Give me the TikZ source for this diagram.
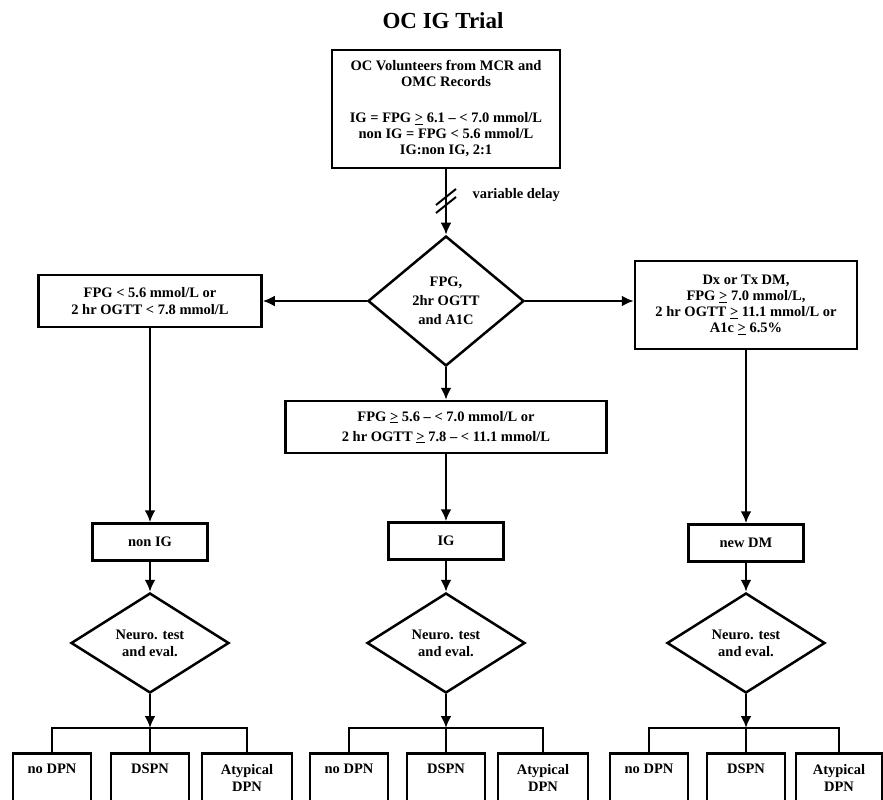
\documentclass[tikz,border=0pt]{standalone}
\usepackage{fontspec}
\setmainfont{Liberation Serif}
\usetikzlibrary{arrows.meta,shapes.geometric}
\newcommand{\geu}{\underline{>}}

\begin{document}
\begin{tikzpicture}[x=1pt,y=-1pt]
\tikzset{every node/.style={font=\bfseries\fontsize{14.5}{17}\selectfont,
		align=center}}
\tikzset{box/.style = {shape=rectangle,draw,line width=2.5pt,inner sep=0pt}}
\tikzset{choice/.style = {shape=diamond,draw,line width=2.5pt,inner sep=0pt}}
\tikzset{outcome/.style = {box,anchor=north,minimum width=78pt,inner ysep=11pt,text depth=60pt}}
\tikzset{edge/.style = {-{Latex[length=12pt,width=11pt]},line width=2.5pt}}
\tikzset{link/.style = {line width=2.5pt,line join=miter}}
\useasboundingbox (0,0) rectangle (883,800);
% title
\node (t) at (443,21) {\fontsize{23}{26}\selectfont OC IG Trial};
% boxes
\node[box,minimum width=228pt,minimum height=118pt,
	font=\bfseries\fontsize{14.5}{16}\selectfont] (v) at (446,109)
	{OC Volunteers from MCR and\\OMC Records\\[20pt]
	 IG = FPG \geu{} 6.1 -- < 7.0 mmol/L\\non IG = FPG < 5.6 mmol/L\\IG:non IG, 2:1};
\coordinate (cut) at (446,202);
\node[anchor=west] (vd) at (469,195) {variable delay};
\node[choice,minimum width=156pt,minimum height=130pt,
	font=\bfseries\fontsize{14.5}{19}\selectfont] (c) at (446,301) {FPG,\\2hr OGTT\\and A1C};
\node[box,minimum width=223pt,minimum height=52pt] (l) at (150,301)
	{FPG < 5.6 mmol/L or\\2 hr OGTT < 7.8 mmol/L};
\node[box,minimum width=222pt,minimum height=88pt,
	font=\bfseries\fontsize{14.5}{16}\selectfont] (r) at (746,305)
	{Dx or Tx DM,\\FPG \geu{} 7.0 mmol/L,\\2 hr OGTT \geu{} 11.1 mmol/L or\\A1c \geu{} 6.5\%};
\node[box,minimum width=321pt,minimum height=52pt,
	font=\bfseries\fontsize{14.5}{20}\selectfont] (m) at (446,427)
	{FPG \geu{} 5.6 -- < 7.0 mmol/L or\\2 hr OGTT \geu{} 7.8 -- < 11.1 mmol/L};
\node[box,minimum width=115pt,minimum height=37pt] (n1) at (150,542) {non IG};
\node[box,minimum width=115pt,minimum height=37pt] (n2) at (446,541) {IG};
\node[box,minimum width=115pt,minimum height=37pt] (n3) at (746,543) {new DM};
\node[choice,minimum width=158pt,minimum height=100pt] (d1) at (150,643) {Neuro. test\\and eval.};
\node[choice,minimum width=158pt,minimum height=100pt] (d2) at (446,643) {Neuro. test\\and eval.};
\node[choice,minimum width=158pt,minimum height=100pt] (d3) at (746,643) {Neuro. test\\and eval.};
\coordinate (j1) at (150,728);
\coordinate (j2) at (446,728);
\coordinate (j3) at (746,728);
\node[outcome] (a1) at (52,752) {no DPN};
\node[outcome] (a2) at (150,752) {DSPN};
\node[outcome,minimum width=90pt] (a3) at (247,752) {Atypical\\DPN};
\node[outcome] (b1) at (349,752) {no DPN};
\node[outcome] (b2) at (446,752) {DSPN};
\node[outcome,minimum width=90pt] (b3) at (543,752) {Atypical\\DPN};
\node[outcome] (e1) at (649,752) {no DPN};
\node[outcome] (e2) at (746,752) {DSPN};
\node[outcome,minimum width=86pt] (e3) at (839,752) {Atypical\\DPN};

%edges
\draw[edge] (v) -- (c);
\draw[line width=2pt] (cut) ++(-10,3) -- ++(20,-16);
\draw[line width=2pt] (cut) ++(-10,11) -- ++(20,-16);
\draw[edge] (c) -- (l);
\draw[edge] (c) -- (c -| r.west);
\draw[edge] (c) -- (m);
\draw[edge] (l) -- (n1);
\draw[edge] (m) -- (n2);
\draw[edge] (r) -- (n3);
\draw[edge] (n1) -- (d1);
\draw[edge] (n2) -- (d2);
\draw[edge] (n3) -- (d3);
\draw[edge] (d1) -- (j1);
\draw[edge] (d2) -- (j2);
\draw[edge] (d3) -- (j3);
\draw[link] (a1.north) |- (j1) -| (a3.north);
\draw[link] (j1) -- (a2.north);
\draw[link] (b1.north) |- (j2) -| (b3.north);
\draw[link] (j2) -- (b2.north);
\draw[link] (e1.north) |- (j3) -| (e3.north);
\draw[link] (j3) -- (e2.north);
\end{tikzpicture}
\end{document}
